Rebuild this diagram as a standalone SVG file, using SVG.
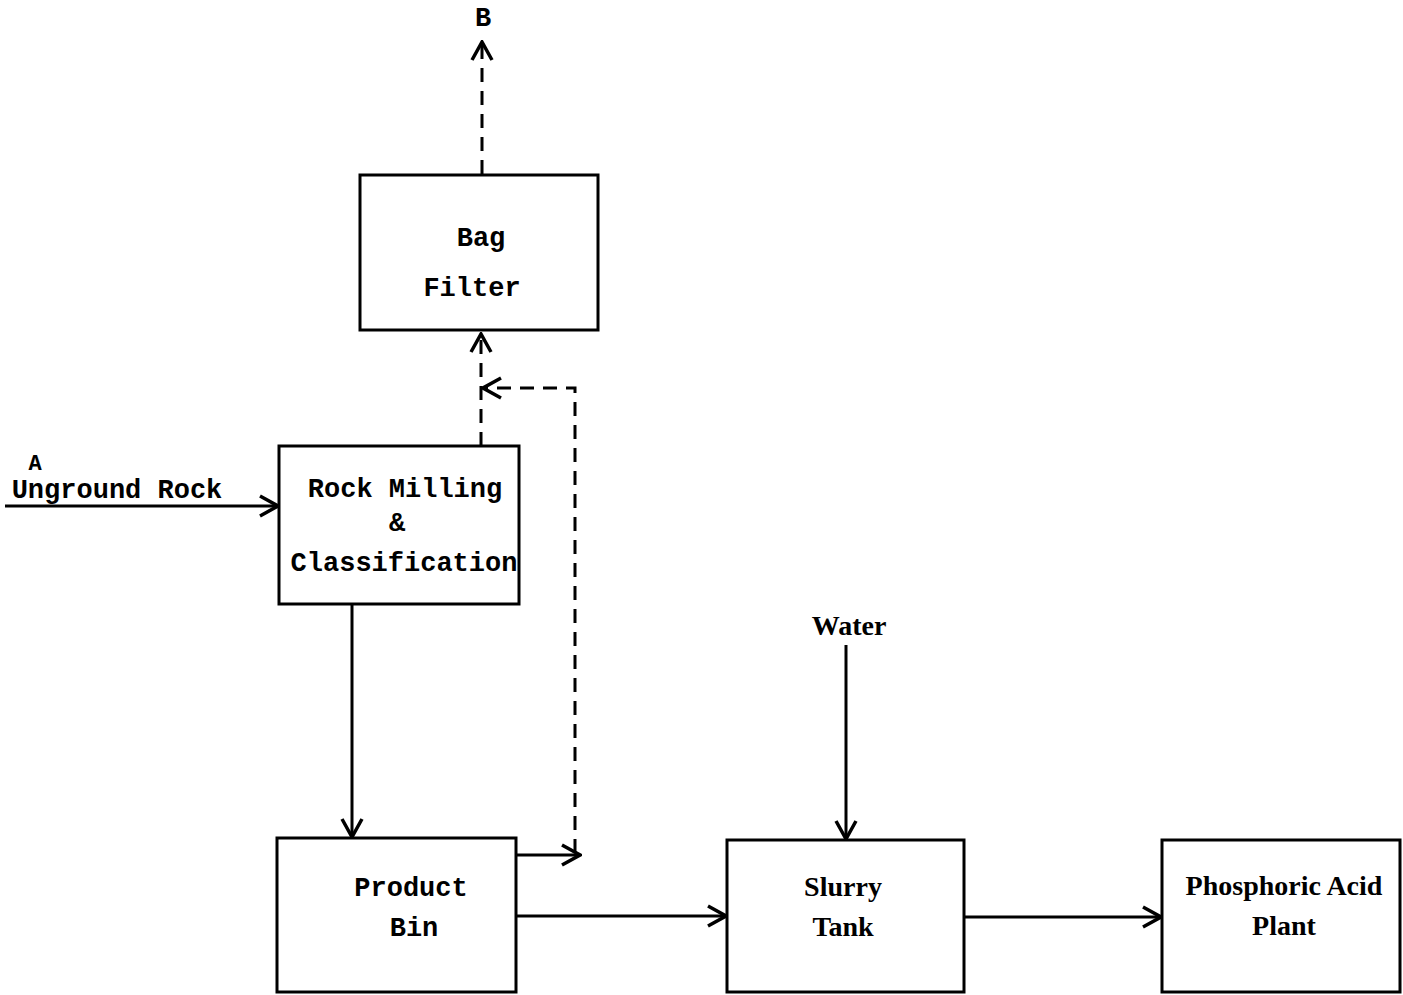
<svg xmlns="http://www.w3.org/2000/svg" width="1403" height="995" viewBox="0 0 1403 995">
<defs>
<style>
.box{fill:#fff;stroke:#000;stroke-width:3}
.mono{font-family:"Liberation Mono","DejaVu Sans Mono",monospace;font-size:27px;font-weight:bold;fill:#000}
.serif{font-family:"Liberation Serif","DejaVu Serif",serif;font-size:28px;font-weight:bold;fill:#000}
.ln{fill:none;stroke:#000;stroke-width:3}
.dash{fill:none;stroke:#000;stroke-width:3;stroke-dasharray:14 9}
</style>
<marker id="arr" viewBox="0 0 24 24" refX="22" refY="12" markerWidth="24" markerHeight="24" markerUnits="userSpaceOnUse" orient="auto">
<path d="M4,2 L22,12 L4,22" fill="none" stroke="#000" stroke-width="3.5" stroke-linejoin="miter"/>
</marker>
</defs>
<rect width="1403" height="995" fill="#fff"/>
<g id="connectors">
<line class="dash" x1="482" y1="174" x2="482" y2="42" marker-end="url(#arr)"/>
<line class="dash" x1="481" y1="446" x2="481" y2="334" marker-end="url(#arr)"/>
<polyline class="dash" points="575,853 575,388 483,388" marker-end="url(#arr)"/>
<line class="ln" x1="5" y1="506" x2="278" y2="506" marker-end="url(#arr)"/>
<line class="ln" x1="352" y1="604" x2="352" y2="837" marker-end="url(#arr)"/>
<line class="ln" x1="516" y1="855" x2="580" y2="855" marker-end="url(#arr)"/>
<line class="ln" x1="516" y1="916" x2="726" y2="916" marker-end="url(#arr)"/>
<line class="ln" x1="846" y1="645" x2="846" y2="839" marker-end="url(#arr)"/>
<line class="ln" x1="964" y1="917" x2="1161" y2="917" marker-end="url(#arr)"/>
</g>
<g id="bag-filter">
<rect class="box" x="360" y="175" width="238" height="155"/>
<text class="mono" x="481" y="246" text-anchor="middle">Bag</text>
<text class="mono" x="472" y="296" text-anchor="middle">Filter</text>
</g>
<g id="rock-milling">
<rect class="box" x="279" y="446" width="240" height="158"/>
<text class="mono" x="405" y="497" text-anchor="middle">Rock Milling</text>
<text class="mono" x="397" y="531" text-anchor="middle">&amp;</text>
<text class="mono" x="404" y="571" text-anchor="middle">Classification</text>
</g>
<g id="product-bin">
<rect class="box" x="277" y="838" width="239" height="154"/>
<text class="mono" x="411" y="896" text-anchor="middle">Product</text>
<text class="mono" x="414" y="936" text-anchor="middle">Bin</text>
</g>
<g id="slurry-tank">
<rect class="box" x="727" y="840" width="237" height="152"/>
<text class="serif" x="843" y="896" text-anchor="middle">Slurry</text>
<text class="serif" x="843" y="936" text-anchor="middle">Tank</text>
</g>
<g id="phosphoric-acid-plant">
<rect class="box" x="1162" y="840" width="238" height="152"/>
<text class="serif" x="1284" y="895" text-anchor="middle">Phosphoric Acid</text>
<text class="serif" x="1284" y="935" text-anchor="middle">Plant</text>
</g>
<g id="labels">
<text class="mono" x="483" y="26" text-anchor="middle">B</text>
<text class="mono" x="35" y="470" text-anchor="middle" style="font-size:22px">A</text>
<text class="mono" x="117" y="498" text-anchor="middle">Unground Rock</text>
<text class="serif" x="849" y="635" text-anchor="middle">Water</text>
</g>
</svg>
